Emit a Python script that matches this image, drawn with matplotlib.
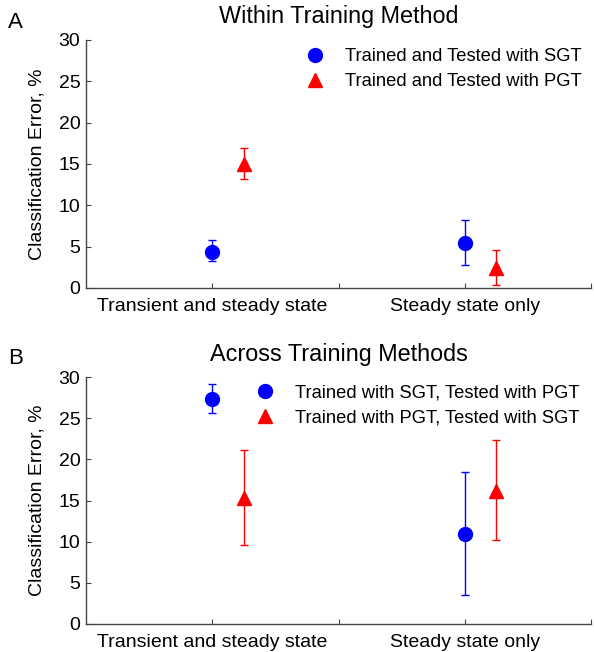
import numpy as np
import matplotlib.pyplot as plt
from matplotlib.lines import Line2D

plt.rcParams['font.family'] = ['Liberation Sans', 'DejaVu Sans']

categories = ['Transient and steady state', 'Steady state only']
cat_pos = [1, 3]
offset = 0.25

# panel A: within training method
a_sgt = [4.4, 5.4]
a_sgt_lo = [3.3, 2.8]
a_sgt_hi = [5.8, 8.2]
a_pgt = [15.0, 2.4]
a_pgt_lo = [13.2, 0.4]
a_pgt_hi = [16.9, 4.6]

# panel B: across training methods
b_sgt = [27.3, 10.9]
b_sgt_lo = [25.6, 3.5]
b_sgt_hi = [29.1, 18.5]
b_pgt = [15.3, 16.2]
b_pgt_lo = [9.6, 10.2]
b_pgt_hi = [21.1, 22.4]

W, H = 594, 652
fig = plt.figure(figsize=(W / 100, H / 100), dpi=100)


def fx(px):
    return px / W


def fy(py):
    return 1 - py / H


ax1 = fig.add_axes([fx(86), fy(288), fx(591 - 86), (288 - 40) / H])
ax2 = fig.add_axes([fx(86), fy(624), fx(591 - 86), (624 - 377) / H])
axis_col = '#444444'


def panel(ax, y1, lo1, hi1, y2, lo2, hi2, lab1, lab2, leg_x, leg_top):
    x1 = np.array(cat_pos, dtype=float)
    x2 = x1 + offset
    y1 = np.array(y1); y2 = np.array(y2)
    e1 = [y1 - np.array(lo1), np.array(hi1) - y1]
    e2 = [y2 - np.array(lo2), np.array(hi2) - y2]
    ax.errorbar(x1, y1, yerr=e1, fmt='o', color='blue', ms=10, capsize=3,
                elinewidth=1, capthick=1)
    ax.errorbar(x2, y2, yerr=e2, fmt='^', color='red', ms=10, capsize=3,
                elinewidth=1, capthick=1)
    ax.set_xlim(0, 4)
    ax.set_ylim(0, 30)
    ax.set_xticks([1, 2, 3, 4])
    ax.set_xticklabels([categories[0], '', categories[1], ''])
    ax.set_yticks([0, 5, 10, 15, 20, 25, 30])
    ax.tick_params(axis='both', labelsize=14, direction='in', length=3.5,
                   width=0.8, color=axis_col)
    ax.tick_params(axis='y', pad=4)
    ax.tick_params(axis='x', pad=7)
    ax.spines['top'].set_visible(False)
    ax.spines['right'].set_visible(False)
    for s in ('left', 'bottom'):
        ax.spines[s].set_color(axis_col)
        ax.spines[s].set_linewidth(1.0)
    ax.set_ylabel('Classification Error, %', fontsize=14)
    ax.yaxis.set_label_coords(-0.080, 0.5)
    handles = [Line2D([], [], ls='none', marker='o', color='blue', ms=10),
               Line2D([], [], ls='none', marker='^', color='red', ms=10)]
    ax.legend(handles, [lab1, lab2], loc='upper left',
              bbox_to_anchor=(fx(leg_x), fy(leg_top)),
              bbox_transform=fig.transFigure, frameon=False, fontsize=13.2,
              handlelength=1.0, handletextpad=1.15, labelspacing=0.45,
              borderpad=0, borderaxespad=0)


panel(ax1, a_sgt, a_sgt_lo, a_sgt_hi, a_pgt, a_pgt_lo, a_pgt_hi,
      'Trained and Tested with SGT', 'Trained and Tested with PGT', 306, 48)
panel(ax2, b_sgt, b_sgt_lo, b_sgt_hi, b_pgt, b_pgt_lo, b_pgt_hi,
      'Trained with SGT, Tested with PGT', 'Trained with PGT, Tested with SGT',
      256, 384)

fig.text(fx(338.5), fy(17), 'Within Training Method', fontsize=16.8,
         ha='center', va='center')
fig.text(fx(338.5), fy(354), 'Across Training Methods', fontsize=16.8,
         ha='center', va='center')
fig.text(fx(8), fy(22), 'A', fontsize=16, ha='left', va='center')
fig.text(fx(8), fy(359), 'B', fontsize=16, ha='left', va='center')

fig.savefig('out.png', dpi=100)
